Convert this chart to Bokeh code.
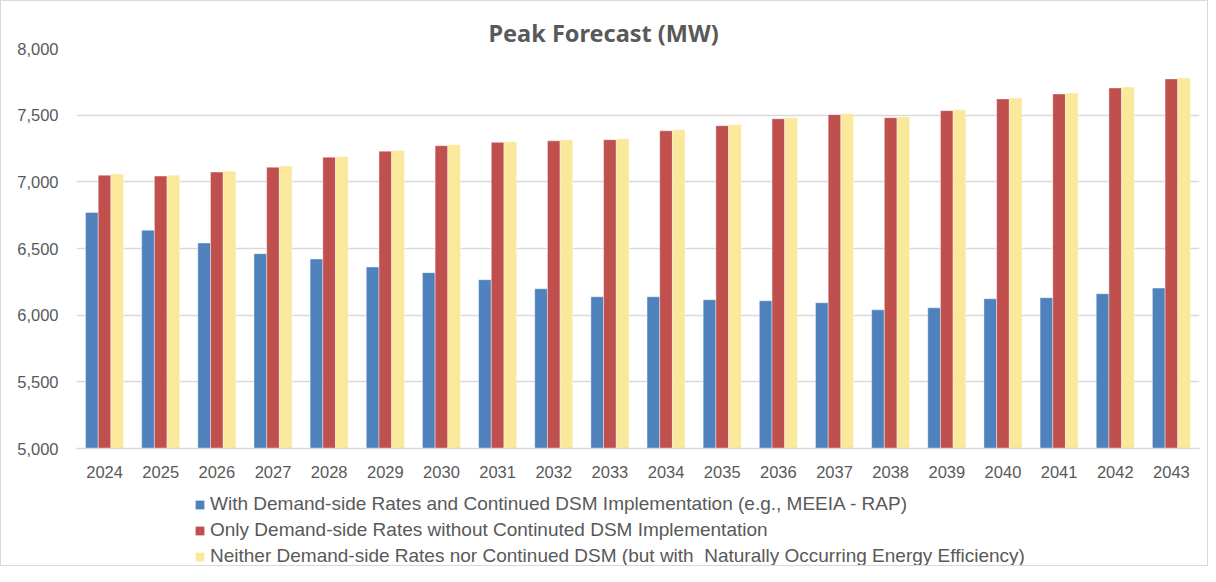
from bokeh.plotting import figure
from bokeh.layouts import column
from bokeh.models import (FactorRange, Legend, LegendItem, NumeralTickFormatter, Range1d,
                          FixedTicker, Title, ColumnDataSource)
from bokeh.transform import dodge
from bokeh.embed import file_html
from bokeh.resources import INLINE

years = [str(y) for y in range(2024, 2044)]
with_dsm = [6770, 6637, 6541, 6461, 6421, 6361, 6319, 6266, 6198, 6138,
            6138, 6116, 6108, 6093, 6040, 6055, 6123, 6131, 6161, 6203]
rates_only = [7050, 7043, 7073, 7110, 7185, 7230, 7271, 7296, 7308, 7316,
              7383, 7421, 7473, 7504, 7481, 7534, 7622, 7659, 7704, 7772]
neither = [7058, 7050, 7080, 7118, 7190, 7235, 7278, 7301, 7316, 7323,
           7391, 7429, 7481, 7511, 7486, 7541, 7629, 7667, 7711, 7779]
series_names = [
    "With Demand-side Rates and Continued DSM Implementation (e.g., MEEIA - RAP)",
    "Only Demand-side Rates without Continuted DSM Implementation",
    "Neither Demand-side Rates nor Continued DSM (but with  Naturally Occurring Energy Efficiency)",
]
colors = ["#4F81BD", "#C0504D", "#FAE89B"]
y_ticks = [5000, 5500, 6000, 6500, 7000, 7500, 8000]

src = ColumnDataSource(dict(year=years, a=with_dsm, b=rates_only, c=neither))
r_cols = ["a", "b", "c"]

TXT = "#595959"
W = 1206
p = figure(width=W, height=490, x_range=FactorRange(*years), y_range=Range1d(5000, 8000),
           output_backend="svg", toolbar_location=None,
           min_border_left=75, min_border_right=8, min_border_top=47, min_border_bottom=43)
p.outline_line_color = None
p.background_fill_color = "white"
p.border_fill_color = "white"

t = Title(text="Peak Forecast (MW)", align="left", text_font="Noto Sans", text_font_size="23.5px",
          text_font_style="bold", text_color=TXT, offset=412, standoff=0)
p.add_layout(t, "above")

bw = 0.226
for i, col in enumerate(r_cols):
    p.vbar(x=dodge("year", (i - 1) * bw, range=p.x_range), top=col, bottom=5000, width=bw,
           source=src, fill_color=colors[i], line_color="white", line_width=0.4)

p.x_range.range_padding = 0
p.x_range.group_padding = 0

p.yaxis.ticker = FixedTicker(ticks=y_ticks)
p.yaxis.formatter = NumeralTickFormatter(format="0,0")
p.yaxis.axis_line_color = None
p.yaxis.major_tick_line_color = None
p.yaxis.minor_tick_line_color = None
p.yaxis.major_label_standoff = 12
p.yaxis.major_label_text_font = "Liberation Sans"
p.yaxis.major_label_text_font_size = "16.5px"
p.yaxis.major_label_text_color = TXT

p.xaxis.axis_line_color = "#d9d9d9"
p.xaxis.axis_line_width = 1.5
p.xaxis.major_tick_line_color = None
p.xaxis.minor_tick_line_color = None
p.xaxis.major_label_standoff = 11
p.xaxis.major_label_text_font = "Liberation Sans"
p.xaxis.major_label_text_font_size = "16.5px"
p.xaxis.major_label_text_color = TXT

p.xgrid.grid_line_color = None
p.ygrid.grid_line_color = "#d9d9d9"
p.ygrid.grid_line_width = 1.5

# legend strip below the chart (its key renderers have zero area, so only the legend shows)
p2 = figure(width=W, height=74, x_range=FactorRange(*years), y_range=Range1d(0, 1),
            output_backend="svg", toolbar_location=None, x_axis_type=None, y_axis_type=None,
            min_border=0)
p2.outline_line_color = None
p2.xgrid.grid_line_color = None
p2.ygrid.grid_line_color = None
p2.border_fill_color = "white"
p2.background_fill_color = "white"
keys = [p2.vbar(x="year", top=col, bottom=col, width=0, source=src,
                fill_color=colors[i], line_color=None) for i, col in enumerate(r_cols)]

legend = Legend(items=[LegendItem(label=series_names[i], renderers=[keys[i]]) for i in range(3)],
                orientation="vertical", location=(118, -2))
legend.label_text_font = "Liberation Sans"
legend.label_text_font_size = "19px"
legend.label_text_color = TXT
legend.glyph_width = 11
legend.glyph_height = 11
legend.label_height = 20
legend.spacing = 4
legend.padding = 0
legend.margin = 0
legend.label_standoff = 5
legend.border_line_color = None
legend.background_fill_alpha = 0
p2.add_layout(legend, "center")

layout = column(p, p2, spacing=0)
layout.styles = {"border": "1px solid #d9d9d9", "background-color": "white"}

open("out.html", "w").write(file_html(layout, INLINE))
